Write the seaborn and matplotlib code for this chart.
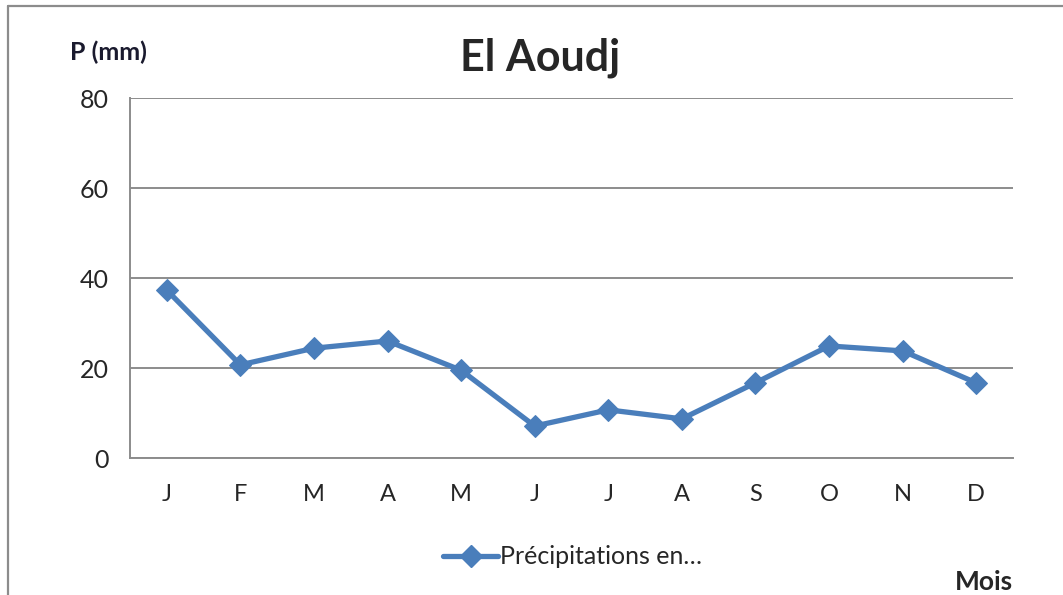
import numpy as np
import pandas as pd
import matplotlib.pyplot as plt
from matplotlib.lines import Line2D
import seaborn as sns

# Données : précipitations mensuelles moyennes (mm) - El Aoudj
mois = ["J", "F", "M", "A", "M", "J", "J", "A", "S", "O", "N", "D"]
rang = list(range(12))
precip = [37.3, 20.7, 24.4, 26.0, 19.5, 7.1, 10.7, 8.7, 16.7, 24.9, 23.8, 16.7]
yticks = [0, 20, 40, 60, 80]

df = pd.DataFrame({"rang": rang, "P": precip})

sns.set_style("white")
plt.rcParams['font.family'] = ['Lato', 'DejaVu Sans']

fig = plt.figure(figsize=(10.63, 5.95), dpi=100)
ax = fig.add_axes([130/1063, 1-458/595, (1013-130)/1063, (458-98)/595])

bleu = "#4A7EBB"
gris = "#8C8C8C"

sns.lineplot(data=df, x="rang", y="P", ax=ax, color=bleu, lw=3.8,
             marker="D", markersize=11, markeredgecolor=bleu,
             label="Précipitations en…", legend=False)

#axes
ax.set_xlim(-0.5, 11.5)
ax.set_ylim(0, 80)
ax.set_yticks(yticks)
ax.set_yticklabels([str(v) for v in yticks], fontsize=18)
ax.yaxis.grid(True, color=gris, lw=1.4)
ax.set_xticks(np.arange(-0.5, 12, 1))
ax.set_xticklabels([])
ax.set_xticks(rang, minor=True)
ax.set_xticklabels(mois, minor=True, fontsize=17)
ax.tick_params(axis="x", which="major", length=6, width=1.4, color=gris, direction="out")
ax.tick_params(axis="x", which="minor", length=0, pad=19)
ax.tick_params(axis="y", length=4, width=1.4, color=gris, direction="out", pad=11)
ax.set_xlabel("")
ax.set_ylabel("")
for s in ["top", "right"]:
    ax.spines[s].set_visible(False)
for s in ["left", "bottom"]:
    ax.spines[s].set_color(gris)
    ax.spines[s].set_linewidth(1.4)

#textes
fig.text(540/1063, 1-58/595, "El Aoudj", fontsize=31, fontweight="bold",
         ha="center", va="center")
fig.text(108/1063, 1-52/595, "P (mm)", fontsize=18, fontweight="bold",
         ha="center", va="center", color="#1a1a2e")
fig.text(1013/1063, 1-582/595, "Mois", fontsize=19, fontweight="bold",
         ha="right", va="center")

#legende
h = [Line2D([], [], color=bleu, lw=3.8, marker="D", markersize=11)]
fig.legend(h, ["Précipitations en…"], loc="center left",
           bbox_to_anchor=(443/1063, 1-557/595), frameon=False,
           fontsize=18, handlelength=2.2, handletextpad=0.1, numpoints=1,
           borderaxespad=0, borderpad=0)

#cadre
fig.add_artist(Line2D([8/1063, 8/1063], [0, 1-6/595], color=gris, lw=1.6,
                      transform=fig.transFigure))
fig.add_artist(Line2D([8/1063, 1], [1-6/595, 1-6/595], color=gris, lw=1.6,
                      transform=fig.transFigure))

fig.savefig("out.png", dpi=100)
